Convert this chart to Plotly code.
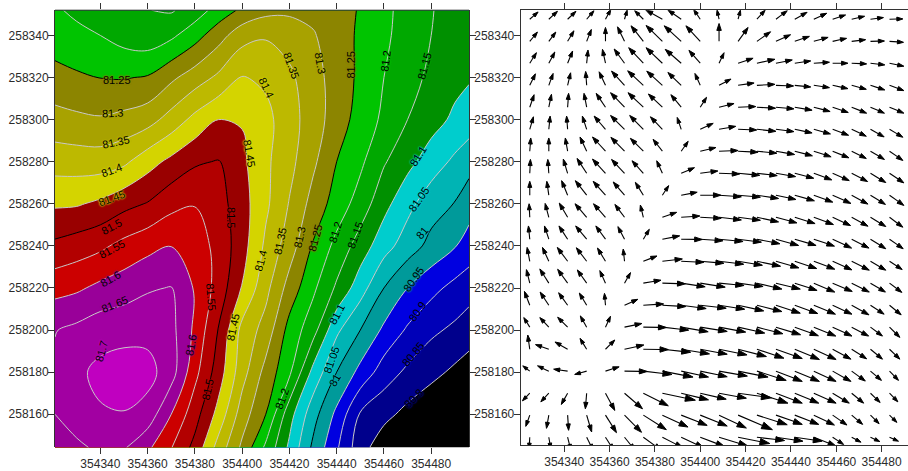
import plotly.graph_objects as go

# ---------- contour surface ----------
grid_x = [354320.8, 354330, 354340, 354350, 354360, 354370, 354380, 354390, 354400, 354410,
          354420, 354430, 354440, 354450, 354460, 354470, 354480, 354490, 354496]
grid_y = [258144.2, 258160, 258180, 258200, 258220, 258240, 258260, 258280, 258300, 258320, 258340, 258352]
grid_z = [
 [81.620,81.640,81.660,81.655,81.610,81.552,81.485,81.380,81.290,81.190,81.090,80.990,80.907,80.820,80.770,80.740,80.720,80.700,80.690],
 [81.650,81.675,81.695,81.698,81.680,81.600,81.520,81.433,81.325,81.250,81.120,81.020,80.938,80.845,80.815,80.785,80.760,80.740,80.725],
 [81.660,81.690,81.712,81.722,81.718,81.672,81.565,81.475,81.370,81.283,81.210,81.085,81.000,80.935,80.875,80.840,80.815,80.790,80.775],
 [81.648,81.662,81.680,81.684,81.684,81.665,81.590,81.497,81.385,81.330,81.232,81.170,81.060,81.000,80.940,80.893,80.860,80.840,80.825],
 [81.583,81.592,81.612,81.627,81.645,81.652,81.595,81.530,81.447,81.365,81.280,81.210,81.142,81.072,81.000,80.950,80.915,80.885,80.870],
 [81.511,81.525,81.540,81.565,81.585,81.599,81.575,81.535,81.470,81.390,81.325,81.245,81.185,81.127,81.070,81.025,80.985,80.953,80.930],
 [81.443,81.445,81.460,81.485,81.503,81.535,81.548,81.520,81.470,81.410,81.347,81.282,81.228,81.178,81.116,81.065,81.022,80.998,80.970],
 [81.378,81.376,81.375,81.390,81.430,81.463,81.493,81.503,81.460,81.410,81.365,81.310,81.250,81.210,81.155,81.115,81.075,81.040,81.020],
 [81.318,81.310,81.305,81.315,81.330,81.370,81.415,81.450,81.447,81.415,81.370,81.325,81.275,81.230,81.190,81.150,81.120,81.090,81.075],
 [81.266,81.258,81.249,81.247,81.254,81.290,81.325,81.360,81.403,81.390,81.360,81.320,81.278,81.240,81.200,81.168,81.140,81.115,81.105],
 [81.226,81.210,81.200,81.180,81.170,81.190,81.230,81.280,81.330,81.345,81.330,81.305,81.270,81.243,81.210,81.178,81.150,81.130,81.120],
 [81.205,81.192,81.178,81.165,81.151,81.145,81.174,81.220,81.260,81.285,81.290,81.285,81.265,81.247,81.213,81.180,81.152,81.135,81.125],
]
band_colors = ["#000000","#00008c","#0000b8","#0000e0","#009a9a","#00b4b4","#00cdcd",
               "#009000","#00a800","#00c400","#8c8500","#a8a200","#bdb900","#d4d400",
               "#990000","#b20000","#cc0000","#990099","#a200a2","#c000c0"]

# (text, x, y, angle)
contour_labels = [
 ("81.25",354347.0,258318.7,0),("81.3",354345.3,258303.2,-3),("81.35",354346.6,258289.5,-12),
 ("81.4",354344.9,258275.9,-20),("81.45",354344.9,258262.7,-20),("81.5",354344.5,258249.0,-28),
 ("81.55",354344.9,258238.7,-28),("81.6",354344.1,258224.1,-30),("81.65",354346.2,258212.3,-22),
 ("81.7",354340.3,258189.7,-75),("81.35",354421.1,258325.7,70),("81.4",354410.1,258315.4,65),
 ("81.45",354403.3,258283.9,80),("81.5",354395.3,258253.7,90),("81.3",354432.9,258326.7,80),
 ("81.25",354446.1,258326.2,-90),("81.2",354460.5,258327.6,-83),("81.15",354477.0,258325.7,-75),
 ("81.1",354474.4,258282.9,-58),("81.05",354474.9,258262.3,-55),("81",354476.1,258246.2,-50),
 ("80.95",354472.7,258224.1,-55),("80.9",354474.0,258208.6,-55),("80.85",354472.3,258188.8,-50),
 ("80.8",354472.7,258167.6,-45),("81.4",354408.0,258232.6,-75),("81.35",354416.0,258242.4,-78),
 ("81.3",354424.1,258243.9,-78),("81.25",354430.8,258243.9,-75),("81.2",354439.3,258246.2,-72),
 ("81.15",354447.8,258245.3,-70),("81.1",354440.1,258207.6,-62),("81.05",354437.6,258186.0,-70),
 ("81",354439.3,258176.1,-60),("81.2",354416.9,258167.1,-70),("81.55",354386.8,258215.6,85),
 ("81.6",354378.3,258193.0,-80),("81.5",354385.5,258171.9,-78),("81.45",354396.1,258201.5,-78),
]

# ---------- vector field ----------
vec_x = [354324.8,354333.2,354341.5,354349.9,354358.2,354366.6,354374.9,354383.3,354391.6,354400.0,
         354408.3,354416.7,354425.0,354433.4,354441.7,354450.1,354458.4,354466.8,354475.1,354483.5]
vec_y = [258347.7,258337.2,258326.8,258316.3,258305.9,258295.4,258285.0,258274.5,258264.1,258253.6,
         258243.2,258232.7,258222.3,258211.8,258201.4,258190.9,258180.5,258170.0,258159.6,258149.1]
vec_u = [
 [25,26,25,22,16,8,-26,-50,-40,-20,-6,7,25,34,37,39,39,39,39,40],
 [23,21,19,14,0,-21,-37,-49,-51,-43,0,30,41,44,44,43,42,42,42,42],
 [20,18,15,4,-9,-31,-44,-49,-48,-34,15,45,54,49,48,47,46,45,43,43],
 [17,13,9,-3,-19,-39,-47,-47,-40,-16,36,48,54,53,48,47,46,44,43,43],
 [13,8,3,-8,-28,-42,-46,-42,-31,19,45,53,56,54,52,49,47,45,42,43],
 [11,4,-3,-13,-34,-42,-41,-36,-12,39,50,56,57,54,52,50,48,44,41,40],
 [3,0,-7,-20,-39,-41,-39,-28,21,47,57,60,60,56,53,52,49,44,42,40],
 [2,-3,-13,-29,-39,-39,-34,-17,40,53,62,65,61,59,57,54,50,48,46,43],
 [0,-6,-18,-34,-37,-34,-24,19,48,62,67,67,65,60,59,57,55,49,45,43],
 [-2,-11,-25,-35,-36,-29,-9,43,56,63,67,67,65,63,61,59,54,49,46,40],
 [-4,-13,-26,-33,-29,-20,18,52,63,68,72,70,69,68,64,62,57,52,46,41],
 [-8,-19,-31,-31,-24,-4,41,60,68,71,74,73,71,69,66,63,58,53,46,38],
 [-10,-27,-30,-28,-17,18,53,69,72,75,75,75,75,73,67,63,59,53,45,37],
 [-16,-26,-27,-22,-3,40,61,70,75,78,77,77,75,73,69,65,58,52,41,35],
 [-18,-27,-30,-19,15,52,69,79,81,81,80,80,78,74,71,66,58,51,36,31],
 [-6,-40,-38,-20,28,58,75,85,85,81,84,85,81,79,74,67,55,45,36,31],
 [-21,-34,-42,-36,41,68,86,92,82,81,85,90,88,79,74,67,55,41,33,27],
 [-22,-24,-19,-4,28,54,75,99,82,78,82,100,93,79,72,67,50,36,29,25],
 [-12,-7,3,15,33,51,69,77,78,81,82,103,91,79,72,62,43,33,26,22],
 [-2,6,10,20,25,32,55,62,68,73,87,95,83,81,82,67,33,28,28,27],
]
vec_v = [
 [22,24,24,26,30,28,26,28,28,30,28,28,28,26,21,18,13,9,5,1],
 [28,28,32,36,42,44,47,48,47,47,54,42,29,20,15,12,9,5,1,-3],
 [32,34,37,40,42,43,47,47,42,39,32,15,12,10,7,3,0,-2,-5,-9],
 [35,36,38,42,41,43,44,43,39,36,19,7,3,-2,-5,-7,-10,-12,-14,-16],
 [38,39,42,42,42,44,44,40,38,30,11,2,-3,-5,-9,-13,-16,-18,-18,-18],
 [38,40,40,40,40,42,42,38,36,18,9,-2,-6,-7,-11,-14,-18,-21,-23,-24],
 [40,40,40,43,43,42,39,36,30,11,2,-3,-6,-10,-14,-17,-20,-22,-25,-28],
 [42,42,43,45,43,42,38,38,17,7,-2,-6,-7,-10,-15,-20,-22,-25,-28,-29],
 [42,42,44,44,42,40,39,29,9,0,-5,-6,-10,-13,-17,-21,-25,-27,-28,-31],
 [41,42,43,41,41,39,37,15,4,-3,-8,-9,-14,-17,-19,-22,-25,-27,-28,-30],
 [40,40,40,40,40,38,30,10,-1,-5,-7,-9,-14,-19,-19,-21,-27,-27,-29,-29],
 [42,42,42,41,40,37,16,7,-3,-6,-9,-12,-15,-20,-22,-24,-26,-27,-27,-25],
 [41,43,42,40,38,32,9,-2,-11,-12,-7,-10,-18,-18,-22,-27,-25,-27,-27,-28],
 [42,40,38,37,36,18,4,-4,-10,-9,-12,-17,-19,-24,-25,-27,-27,-29,-27,-29],
 [29,29,30,34,33,11,-1,-9,-14,-13,-15,-18,-20,-23,-26,-27,-27,-27,-27,-31],
 [43,14,22,33,28,13,-1,-9,-14,-15,-17,-22,-27,-28,-31,-31,-30,-29,-30,-30],
 [16,16,6,-10,13,-1,-10,-18,-18,-17,-15,-18,-28,-31,-31,-31,-31,-30,-28,-28],
 [-23,-26,-34,-47,-52,-47,-38,-21,-20,-18,-15,-14,-30,-30,-30,-30,-30,-30,-28,-26],
 [-34,-40,-46,-51,-53,-52,-44,-36,-31,-33,-39,-44,-29,-28,-28,-30,-30,-28,-26,-22],
 [-35,-35,-40,-40,-40,-40,-40,-32,-32,-28,-27,-19,-10,-12,-12,-27,-22,-15,-13,-12],
]
x_tickvals = [354340,354360,354380,354400,354420,354440,354460,354480]
y_tickvals = [258160,258180,258200,258220,258240,258260,258280,258300,258320,258340]
major_levels = (81.0, 81.5, 0.25)
minor_level_groups = [(80.8, 80.95), (81.05, 81.2), (81.3, 81.45), (81.55, 81.7)]

# ---------- build ----------
W, H = 908, 471
FONT = "Liberation Sans, Arial, sans-serif"
nc = len(band_colors) - 1
colorscale = [[i / nc, c] for i, c in enumerate(band_colors)]

fig = go.Figure()
fig.add_trace(go.Contour(
    x=grid_x, y=grid_y, z=grid_z, xaxis="x", yaxis="y", showscale=False, hoverinfo="skip",
    autocontour=False, contours=dict(start=80.8, end=81.7001, size=0.05, coloring="fill", showlines=False),
    colorscale=colorscale, line=dict(width=0, smoothing=1.0)))
for lo, hi in minor_level_groups:
    fig.add_trace(go.Contour(
        x=grid_x, y=grid_y, z=grid_z, xaxis="x", yaxis="y", showscale=False, hoverinfo="skip",
        autocontour=False, contours=dict(start=lo, end=hi + 0.0001, size=0.05, coloring="none"),
        line=dict(color="#c8c8c8", width=1, smoothing=1.0)))
fig.add_trace(go.Contour(
    x=grid_x, y=grid_y, z=grid_z, xaxis="x", yaxis="y", showscale=False, hoverinfo="skip",
    autocontour=False, contours=dict(start=major_levels[0], end=major_levels[1] + 0.0001,
                                     size=major_levels[2], coloring="none"),
    line=dict(color="#000000", width=1, smoothing=1.0)))

SX, SY = 3 * 2.267, 3 * 2.12
qx, qy, qs = [], [], []
for j, y0 in enumerate(vec_y):
    for i, x0 in enumerate(vec_x):
        u, v = vec_u[j][i], vec_v[j][i]
        qx += [x0, x0 + u / SX, None]
        qy += [y0, y0 + v / SY, None]
        qs += [0, 3.5 + 0.07 * (u * u + v * v) ** 0.5, 0]
fig.add_trace(go.Scatter(
    x=qx, y=qy, xaxis="x2", yaxis="y2", mode="lines+markers", hoverinfo="skip", connectgaps=False,
    line=dict(color="#000000", width=1.1),
    marker=dict(symbol="arrow", angleref="previous", size=qs, color="#000000", opacity=1,
                line=dict(color="#000000", width=1))))


def luminance(hex_color):
    r, g, b = (int(hex_color[k:k + 2], 16) for k in (1, 3, 5))
    return 0.3 * r + 0.59 * g + 0.11 * b


def label_shadow(text):
    idx = round((float(text) - 80.8) / 0.05)
    pair = [band_colors[idx], band_colors[min(idx + 1, len(band_colors) - 1)]]
    c = max(pair, key=luminance)
    return f"0 0 1.5px {c}, 0 0 2px {c}, 0 0 2px {c}"


axis_common = dict(ticks="outside", ticklen=6, tickwidth=1, tickcolor="#333333",
                   tickfont=dict(family=FONT, size=12, color="#2b2b2b"),
                   showgrid=False, zeroline=False, tickformat="d", linecolor="#333333", linewidth=1)
fig.update_layout(
    width=W, height=H, margin=dict(l=0, r=0, t=0, b=0), paper_bgcolor="white", plot_bgcolor="white",
    showlegend=False, font=dict(family=FONT),
    xaxis=dict(domain=[55 / W, 469 / W], range=[354320.8, 354496], tickvals=x_tickvals,
               showline=False, mirror="ticks", anchor="y", ticklabelstandoff=-1, **axis_common),
    yaxis=dict(domain=[(H - 452.3) / H, (H - 10.3) / H], range=[258144.2, 258352], tickvals=y_tickvals,
               showline=True, mirror="ticks", anchor="x", ticklabelstandoff=-3, **axis_common),
    xaxis2=dict(domain=[520.7 / W, 1], range=[354320.8, 354491.65], tickvals=x_tickvals,
                showline=True, mirror="ticks", anchor="y2", ticklabelstandoff=-1, **axis_common),
    yaxis2=dict(domain=[(H - 450) / H, (H - 10.3) / H], range=[258145.3, 258352], tickvals=y_tickvals,
                showline=True, anchor="x2", ticklabelstandoff=-3, **axis_common),
    shapes=[dict(type="line", xref="x domain", yref="y domain", x0=0, x1=1, y0=1, y1=1,
                 line=dict(color="#333333", width=1), layer="above")],
    annotations=[dict(text=t, x=x, y=y, xref="x", yref="y", textangle=a, showarrow=False,
                      font=dict(family=FONT, size=11, color="#000000", shadow=label_shadow(t)))
                 for t, x, y, a in contour_labels],
)
fig.write_html("out.html", config=dict(displayModeBar=False),
               post_script="document.body.style.margin='0';document.body.style.overflow='hidden';")
